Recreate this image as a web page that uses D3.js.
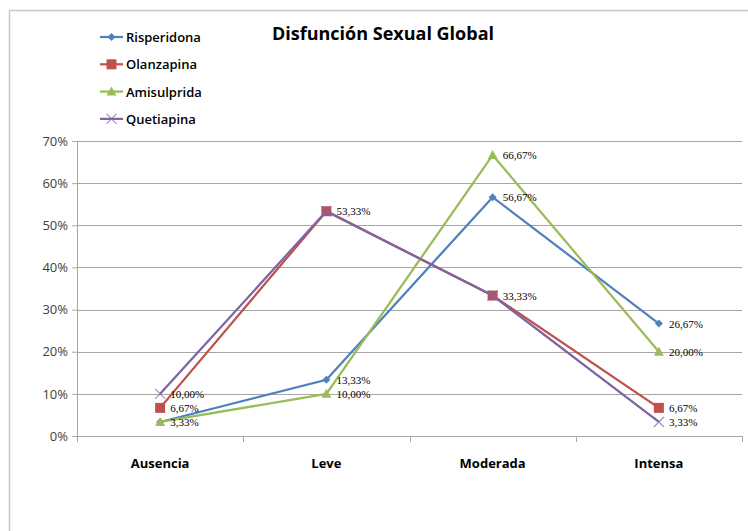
<!DOCTYPE html>
<html>
<head>
<meta charset="utf-8">
<script src="https://cdn.jsdelivr.net/npm/d3@7"></script>
<style>
body { margin:0; background:#fff; }
svg { display:block; }
</style>
</head>
<body>
<div id="chart-area"></div>
<script>
// Disfunción Sexual Global
var categories = ["Ausencia", "Leve", "Moderada", "Intensa"];
var seriesNames = ["Risperidona", "Olanzapina", "Amisulprida", "Quetiapina"];
var risperidona = [3.33, 13.33, 56.67, 26.67];
var olanzapina = [6.67, 53.33, 33.33, 6.67];
var amisulprida = [3.33, 10.00, 66.67, 20.00];
var quetiapina = [10.00, 53.33, 33.33, 3.33];
// which points carry a data label (as in the original)
var showRisperidona = [false, true, true, true];
var showOlanzapina = [true, true, true, true];
var showAmisulprida = [true, true, true, true];
var showQuetiapina = [true, false, false, true];
var yTicks = [0, 10, 20, 30, 40, 50, 60, 70];

var colors = ["#4F81BD", "#C0504D", "#9BBB59", "#8064A2"];
var shapes = ["diamond", "square", "triangle", "cross"];

var series = [
    { name: seriesNames[0], values: risperidona, show: showRisperidona },
    { name: seriesNames[1], values: olanzapina, show: showOlanzapina },
    { name: seriesNames[2], values: amisulprida, show: showAmisulprida },
    { name: seriesNames[3], values: quetiapina, show: showQuetiapina }
];

var margin = { left:77, right:6, top:141, bottom:95 };
var width = 748 - margin.left - margin.right;
var height = 531 - margin.top - margin.bottom;

var svg = d3.select("#chart-area")
    .append("svg")
        .attr("width", 748)
        .attr("height", 531);

// outer chart border
svg.append("rect")
    .attr("x", 9.5).attr("y", 10.5)
    .attr("width", 760).attr("height", 540)
    .attr("fill", "none")
    .attr("stroke", "#c8c8c8")
    .attr("stroke-width", 1.5);

var g = svg.append("g")
    .attr("transform", "translate(" + margin.left + "," + margin.top + ")");

var yscale = d3.scaleLinear().domain([0, 70]).range([height, 0]);
var xscale = d3.scaleBand().domain(categories).range([0, width]);
var xc = function(c){ return xscale(c) + xscale.bandwidth() / 2; };

// gridlines
g.append("g").selectAll("line")
    .data(yTicks.filter(function(d){ return d > 0; }))
    .enter().append("line")
        .attr("x1", 0).attr("x2", width)
        .attr("y1", function(d){ return Math.round(yscale(d)) + 0.5; })
        .attr("y2", function(d){ return Math.round(yscale(d)) + 0.5; })
        .attr("stroke", "#a6a6a6")
        .attr("stroke-width", 1);

// y axis
var leftAxis = d3.axisLeft(yscale)
    .tickValues(yTicks)
    .tickSize(5)
    .tickPadding(4)
    .tickFormat(function(d){ return d + "%"; });
var ya = g.append("g").call(leftAxis);
ya.select(".domain").attr("stroke", "#a6a6a6");
ya.selectAll(".tick line").attr("stroke", "#a6a6a6");
ya.selectAll("text")
    .attr("font-family", "'Open Sans', sans-serif")
    .attr("font-size", 13)
    .attr("fill", "#404040");

// x axis
var xa = g.append("g").attr("transform", "translate(0," + height + ")");
xa.append("line")
    .attr("x1", 0).attr("x2", width)
    .attr("y1", 0.5).attr("y2", 0.5)
    .attr("stroke", "#a6a6a6");
var boundaries = categories.map(function(c){ return xscale(c); }).concat([width]);
xa.selectAll(".xtick").data(boundaries).enter().append("line")
    .attr("x1", function(d){ return Math.round(d) + 0.5; })
    .attr("x2", function(d){ return Math.round(d) + 0.5; })
    .attr("y1", 0).attr("y2", 6)
    .attr("stroke", "#a6a6a6");
xa.selectAll(".xlab").data(categories).enter().append("text")
    .attr("x", xc)
    .attr("y", 32)
    .attr("text-anchor", "middle")
    .attr("font-family", "'Open Sans', sans-serif")
    .attr("font-weight", "bold")
    .attr("font-size", 13)
    .attr("fill", "#000")
    .text(function(d){ return d; });

function drawMarker(sel, shape, color, x, y){
    if (shape === "diamond") {
        sel.append("path").attr("d", "M" + x + "," + (y-4) + "L" + (x+4) + "," + y + "L" + x + "," + (y+4) + "L" + (x-4) + "," + y + "Z")
            .attr("fill", color);
    } else if (shape === "square") {
        sel.append("rect").attr("x", x-5).attr("y", y-5).attr("width", 10).attr("height", 10).attr("fill", color);
    } else if (shape === "triangle") {
        sel.append("path").attr("d", "M" + x + "," + (y-5) + "L" + (x+5) + "," + (y+4) + "L" + (x-5) + "," + (y+4) + "Z")
            .attr("fill", color);
    } else {
        sel.append("path").attr("d", "M" + (x-5) + "," + (y-5) + "L" + (x+5) + "," + (y+5) + "M" + (x+5) + "," + (y-5) + "L" + (x-5) + "," + (y+5))
            .attr("stroke", color).attr("stroke-width", 1.2).attr("opacity", 0.7);
    }
}

var line = d3.line()
    .x(function(d, i){ return xc(categories[i]); })
    .y(function(d){ return yscale(d); });

var fmt = function(v){ return v.toFixed(2).replace(".", ",") + "%"; };

series.forEach(function(s, k){
    var sg = g.append("g");
    sg.append("path")
        .datum(s.values)
        .attr("d", line)
        .attr("fill", "none")
        .attr("stroke", colors[k])
        .attr("stroke-width", 2.25);
    s.values.forEach(function(v, i){
        drawMarker(sg, shapes[k], colors[k], xc(categories[i]), yscale(v));
    });
});

// data labels on top
series.forEach(function(s, k){
    var pts = s.values.map(function(v, i){ return { cat: categories[i], v: v, show: s.show[i] }; })
        .filter(function(p){ return p.show; });
    g.append("g").selectAll("text")
        .data(pts)
        .enter().append("text")
            .attr("x", function(p){ return xc(p.cat) + 10; })
            .attr("y", function(p){ return yscale(p.v) + 4; })
            .attr("font-family", "'Liberation Serif', serif")
            .attr("font-size", 11)
            .attr("fill", "#000")
            .text(function(p){ return fmt(p.v); });
});

// title
svg.append("text")
    .attr("x", 383).attr("y", 40)
    .attr("text-anchor", "middle")
    .attr("font-family", "'Open Sans', sans-serif")
    .attr("font-weight", "bold")
    .attr("font-size", 18)
    .text("Disfunción Sexual Global");

// legend
var legend = svg.append("g").attr("transform", "translate(100,37)");
series.forEach(function(s, k){
    var lg = legend.append("g").attr("transform", "translate(0," + (k * 27.3) + ")");
    lg.append("line").attr("x1", 0).attr("x2", 23).attr("y1", 0).attr("y2", 0)
        .attr("stroke", colors[k]).attr("stroke-width", 2.25);
    drawMarker(lg, shapes[k], colors[k], 11.5, 0);
    lg.append("text")
        .attr("x", 26).attr("y", 5)
        .attr("font-family", "'Open Sans', sans-serif")
        .attr("font-weight", 600)
        .attr("font-size", 13)
        .text(s.name);
});
</script>
</body>
</html>
